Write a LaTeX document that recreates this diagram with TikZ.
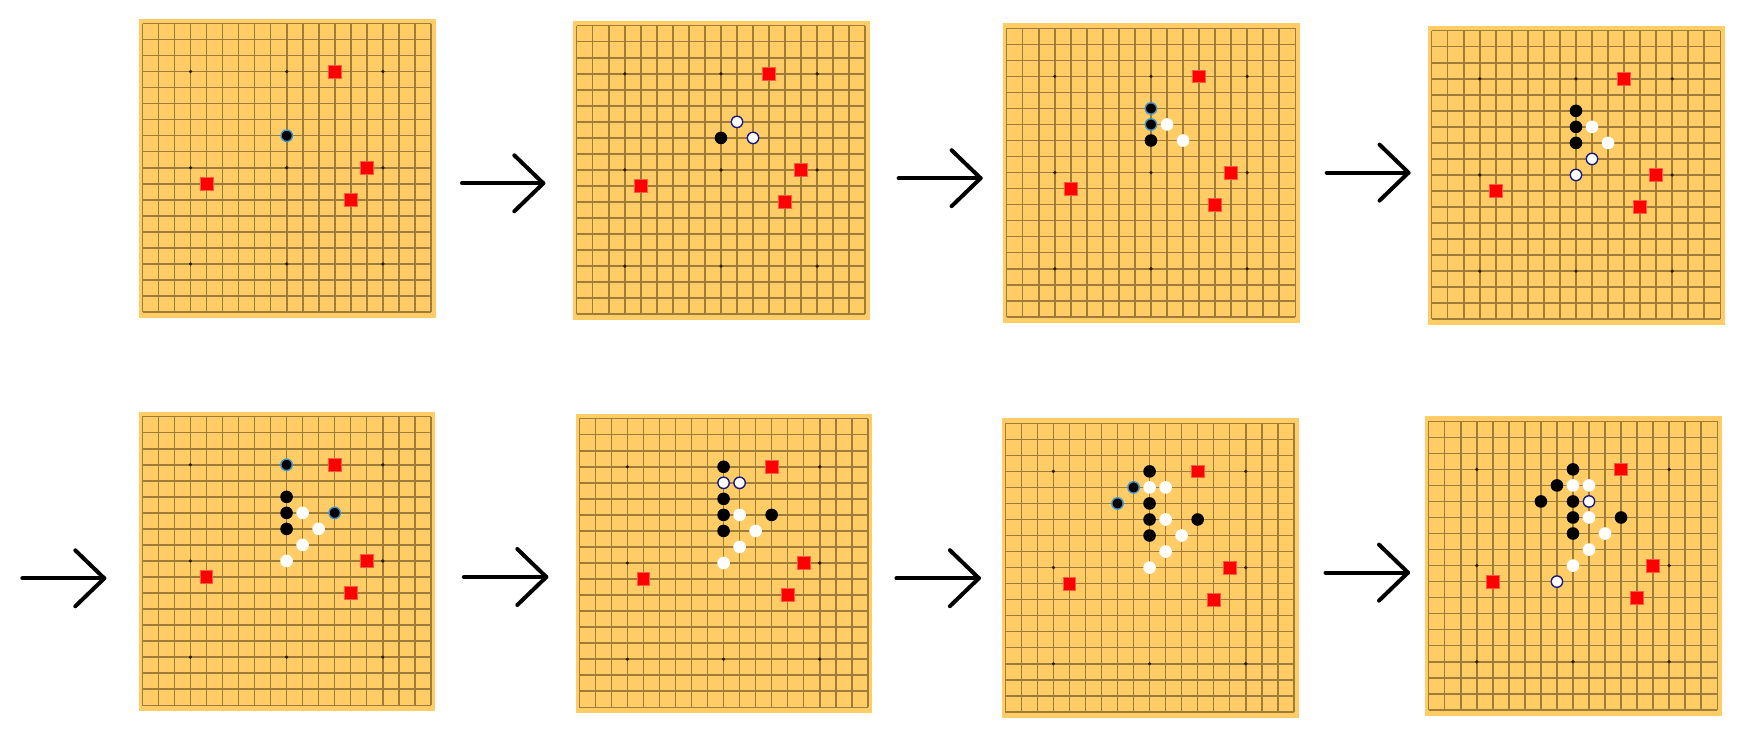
\documentclass[tikz,border=0pt]{standalone}
\usepackage{tikz}
\definecolor{boardcol}{RGB}{255,204,102}
\definecolor{gridcol}{RGB}{158,124,58}
\definecolor{starcol}{RGB}{40,30,10}
\definecolor{markblue}{RGB}{60,150,205}
\definecolor{marknavy}{RGB}{25,25,130}
\definecolor{sqred}{RGB}{255,0,0}
\definecolor{sqedge}{RGB}{255,90,70}
\tikzset{
  boardbg/.style={fill=boardcol},
  gridline/.style={draw=gridcol, line width=1.5pt},
  stardot/.style={fill=starcol},
  blackstone/.style={fill=black},
  whitestone/.style={fill=white},
  blackmark/.style={fill=black, draw=markblue, line width=1.4pt},
  whitemark/.style={fill=white, draw=marknavy, line width=1.4pt},
  redsq/.style={fill=sqred, draw=sqedge, line width=0.8pt},
  flow/.style={draw=black, line width=4pt, line cap=round, line join=round}
}
\newcommand\gBoard[3]{%
  \begin{scope}[xshift=#1pt, yshift=-#2pt, x=16.03pt, y=-16.03pt]
    \fill[boardbg] (-0.23,-0.31) rectangle (18.29,18.37);
    \foreach \i in {0,...,18} {
      \draw[gridline] (\i,0) -- (\i,18);
      \draw[gridline] (0,\i) -- (18,\i);
    }
    \foreach \a in {3,9,15} { \foreach \b in {3,9,15} { \fill[stardot] (\a,\b) circle (1.8pt); } }
    \foreach \a/\b in {12/3,14/9,4/10,13/11} {
      \filldraw[redsq] (\a,\b) ++(-6.4pt,-6.4pt) rectangle ++(12.8pt,12.8pt);
    }
    #3
  \end{scope}}
\newcommand\gBlk[1]{\foreach \a/\b in {#1} {\fill[blackstone] (\a,\b) circle (6.3pt);}}
\newcommand\gWht[1]{\foreach \a/\b in {#1} {\fill[whitestone] (\a,\b) circle (6.3pt);}}
\newcommand\gBlkMark[1]{\foreach \a/\b in {#1} {\filldraw[blackmark] (\a,\b) circle (5.7pt);}}
\newcommand\gWhtMark[1]{\foreach \a/\b in {#1} {\filldraw[whitemark] (\a,\b) circle (5.7pt);}}
\begin{document}
\begin{tikzpicture}[x=1pt, y=-1pt]
\useasboundingbox (0,0) rectangle (1757,737);
\fill[white] (0,0) rectangle (1757,737);
% row 1
\gBoard{142.5}{23.5}{\gBlkMark{9/7}}
\gBoard{576.7}{25.7}{\gBlk{9/7}\gWhtMark{10/6,11/7}}
\gBoard{1006.7}{28.3}{\gBlkMark{9/5,9/6}\gBlk{9/7}\gWht{10/6,11/7}}
\gBoard{1431.7}{30.7}{\gBlk{9/5,9/6,9/7}\gWht{10/6,11/7}\gWhtMark{10/8,9/9}}
% row 2
\gBoard{142.3}{416.7}{\gBlkMark{9/3,12/6}\gBlk{9/5,9/6,9/7}\gWht{10/6,11/7,10/8,9/9}}
\gBoard{579.3}{418.7}{\gBlk{9/3,12/6,9/5,9/6,9/7}\gWhtMark{9/4,10/4}\gWht{10/6,11/7,10/8,9/9}}
\gBoard{1005.3}{423.3}{\gBlk{9/3,12/6,9/5,9/6,9/7}\gBlkMark{8/4,7/5}\gWht{9/4,10/4,10/6,11/7,10/8,9/9}}
\gBoard{1428.7}{421.3}{\gBlk{9/3,8/4,7/5,9/5,9/6,9/7,12/6}\gWht{9/4,10/4,10/6,11/7,10/8,9/9}\gWhtMark{10/5,8/10}}
% arrows
\coordinate (a1s) at (462,183.3);   \coordinate (a1e) at (543.3,183.3);
\coordinate (a2s) at (898.6,178.2); \coordinate (a2e) at (980.6,178.2);
\coordinate (a3s) at (1326.7,172.6);\coordinate (a3e) at (1408.5,172.6);
\coordinate (a4s) at (22.3,578.3);  \coordinate (a4e) at (104.3,578.3);
\coordinate (a5s) at (463.9,577);   \coordinate (a5e) at (546.3,577);
\coordinate (a6s) at (896.4,578.2); \coordinate (a6e) at (978.9,578.2);
\coordinate (a7s) at (1325.5,572.6);\coordinate (a7e) at (1408,572.6);
\foreach \k in {1,...,7} {
  \draw[flow] (a\k s) -- (a\k e);
  \draw[flow] (a\k e) ++(-29,-28) -- (a\k e) -- ++(-29,28);
}
\end{tikzpicture}
\end{document}
